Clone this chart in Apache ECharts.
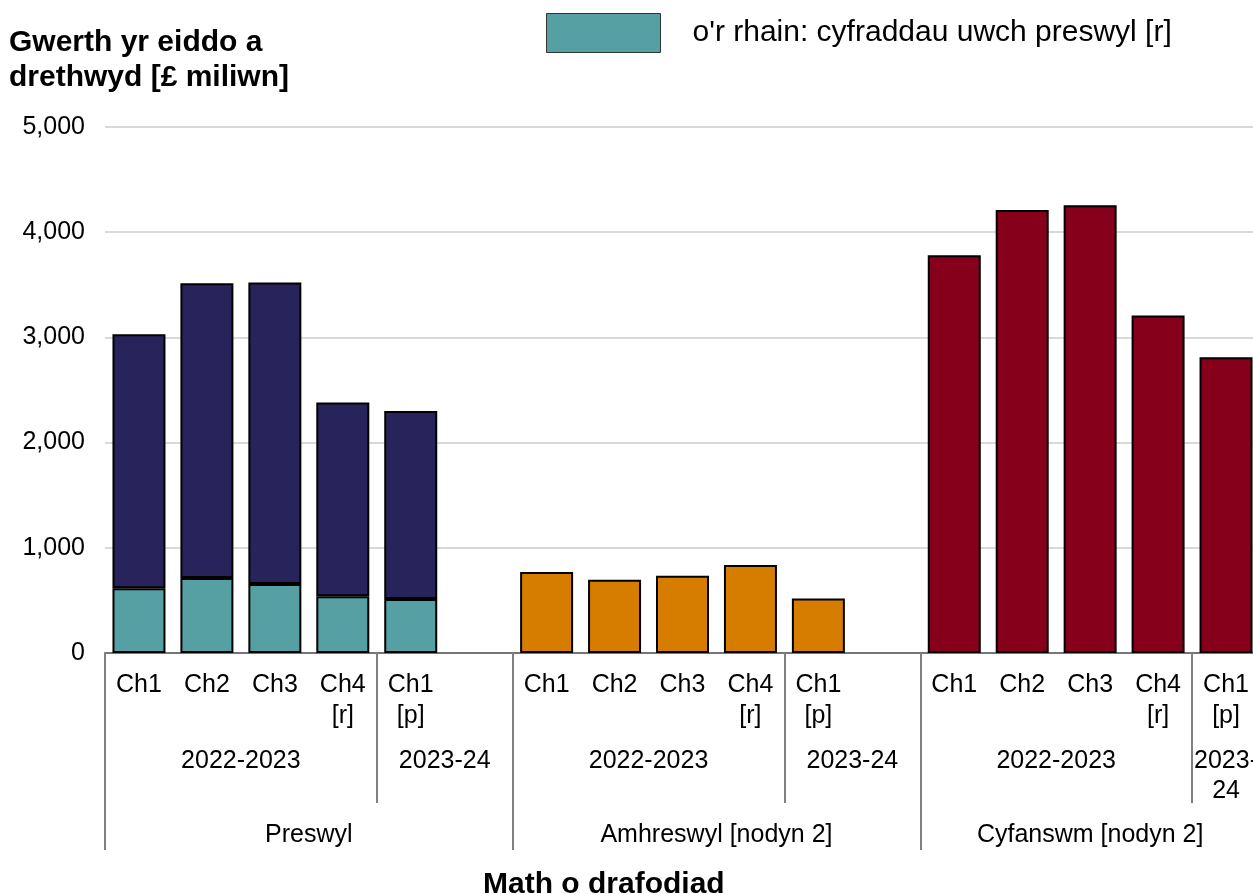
<!DOCTYPE html>
<html lang="cy">
<head>
<meta charset="UTF-8">
<title>Gwerth yr eiddo a drethwyd</title>
<script src="https://cdn.jsdelivr.net/npm/echarts@6/dist/echarts.min.js"></script>
<style>
  html, body { margin: 0; padding: 0; background: #fff; }
  #main { width: 1253px; height: 894px; }
</style>
</head>
<body>
<div id="main"></div>
<script>
// values, £ million
var quarters = ['Ch1', 'Ch2', 'Ch3', 'Ch4\n[r]', 'Ch1\n[p]'];
var residential = [3030, 3515, 3523, 2380, 2300];
var higherRates = [615, 713, 656, 539, 514];
var nonResidential = [769, 696, 734, 836, 519];
var totals = [3782, 4210, 4256, 3208, 2812];

// label rows under the axis: [text, first slot, end slot]
var yearRow = [['2022-2023', 0, 4], ['2023-24', 4, 6], ['2022-2023', 6, 10], ['2023-24', 10, 12], ['2022-2023', 12, 16], ['2023-\n24', 16, 17]];
var typeRow = [['Preswyl', 0, 6], ['Amhreswyl [nodyn 2]', 6, 12], ['Cyfanswm [nodyn 2]', 12, 17]];
var yTicks = [0, 1000, 2000, 3000, 4000, 5000];

var legendName = "o'r rhain: cyfraddau uwch preswyl [r]";
var font = 'Liberation Sans, Arial, sans-serif';

// 17 slots: 5 bars + gap, 5 bars + gap, 5 bars
var slots = [];
[0, 1, 2].forEach(function (g) {
  quarters.forEach(function (q) { slots.push(q); });
  if (g < 2) slots.push('');
});
var nSlots = slots.length;

function blank() {
  var a = [];
  for (var i = 0; i < nSlots; i++) a.push('-');
  return a;
}
var tealData = blank(), navyData = blank(), orangeData = blank(), redData = blank();
for (var i = 0; i < quarters.length; i++) {
  tealData[i] = higherRates[i];
  navyData[i] = residential[i] - higherRates[i];
  orangeData[6 + i] = nonResidential[i];
  redData[12 + i] = totals[i];
}

// half-slot axes for the grouped labels
function halfAxis(rows) {
  var data = [], ticks = [];
  for (var i = 0; i <= nSlots * 2; i++) data.push('');
  rows.forEach(function (r) {
    data[r[1] + r[2]] = r[0];
    ticks.push(r[1] * 2, r[2] * 2);
  });
  return { data: data, ticks: ticks };
}
var yearAxis = halfAxis(yearRow);
var typeAxis = halfAxis(typeRow);

var sepLine = { color: '#808080', width: 2 };
var barBorder = { borderColor: '#000', borderWidth: 2 };

var myChart = echarts.init(document.getElementById('main'));
myChart.setOption({
  animation: false,
  backgroundColor: '#fff',
  textStyle: { fontFamily: font, color: '#000' },
  title: [{
    text: 'Gwerth yr eiddo a\ndrethwyd [£ miliwn]',
    left: 9, top: 25, padding: 0,
    textStyle: { fontFamily: font, fontSize: 30, fontWeight: 'bold', lineHeight: 35, color: '#000' }
  }, {
    text: 'Math o drafodiad',
    left: 483, top: 868, padding: 0,
    textStyle: { fontFamily: font, fontSize: 30, fontWeight: 'bold', lineHeight: 34, color: '#000' }
  }],
  legend: {
    data: [legendName],
    left: 546, top: 13, padding: 0,
    orient: 'horizontal',
    itemWidth: 114, itemHeight: 39,
    icon: 'rect',
    itemStyle: { borderColor: '#333', borderWidth: 1 },
    textStyle: { fontFamily: font, fontSize: 30, color: '#000', padding: [3, 0, 0, 27] }
  },
  grid: { left: 105, right: -7, top: 127, bottom: 241, containLabel: false, outerBoundsMode: 'none' },
  xAxis: [{
    type: 'category',
    position: 'bottom',
    data: slots,
    axisLine: { show: true, lineStyle: { color: '#767676', width: 2 } },
    axisTick: { show: false },
    axisLabel: { interval: 0, margin: 17, fontFamily: font, fontSize: 25, lineHeight: 31, color: '#000', align: 'center' }
  }, {
    type: 'category',
    position: 'bottom',
    boundaryGap: false,
    data: yearAxis.data,
    axisLine: { show: false },
    axisTick: {
      show: true, inside: false, length: 150, lineStyle: sepLine,
      interval: function (idx) { return yearAxis.ticks.indexOf(idx) >= 0; }
    },
    axisLabel: { interval: 0, margin: 93, fontFamily: font, fontSize: 25, lineHeight: 30, color: '#000', align: 'center' },
    splitLine: { show: false }
  }, {
    type: 'category',
    position: 'bottom',
    boundaryGap: false,
    data: typeAxis.data,
    axisLine: { show: false },
    axisTick: {
      show: true, inside: false, length: 197, lineStyle: sepLine,
      interval: function (idx) { return typeAxis.ticks.indexOf(idx) >= 0; }
    },
    axisLabel: { interval: 0, margin: 167, fontFamily: font, fontSize: 25, lineHeight: 31, color: '#000', align: 'center' },
    splitLine: { show: false }
  }],
  yAxis: {
    type: 'value',
    min: yTicks[0],
    max: yTicks[yTicks.length - 1],
    interval: yTicks[1] - yTicks[0],
    axisLine: { show: false },
    axisTick: { show: false },
    splitLine: { lineStyle: { color: '#d9d9d9', width: 2 } },
    axisLabel: {
      margin: 20, fontFamily: font, fontSize: 25, color: '#000', padding: [3, 0, 0, 0],
      formatter: function (v) { return v.toLocaleString('en-GB'); }
    }
  },
  series: [{
    name: legendName, type: 'bar', stack: 'all', barWidth: '78%',
    itemStyle: Object.assign({ color: '#56a0a3' }, barBorder),
    data: tealData
  }, {
    name: 'Preswyl', type: 'bar', stack: 'all', barWidth: '78%',
    itemStyle: Object.assign({ color: '#29235c' }, barBorder),
    data: navyData
  }, {
    name: 'Amhreswyl', type: 'bar', stack: 'all', barWidth: '78%',
    itemStyle: Object.assign({ color: '#d67d00' }, barBorder),
    data: orangeData
  }, {
    name: 'Cyfanswm', type: 'bar', stack: 'all', barWidth: '78%',
    itemStyle: Object.assign({ color: '#86001b' }, barBorder),
    data: redData
  }]
});
</script>
</body>
</html>
